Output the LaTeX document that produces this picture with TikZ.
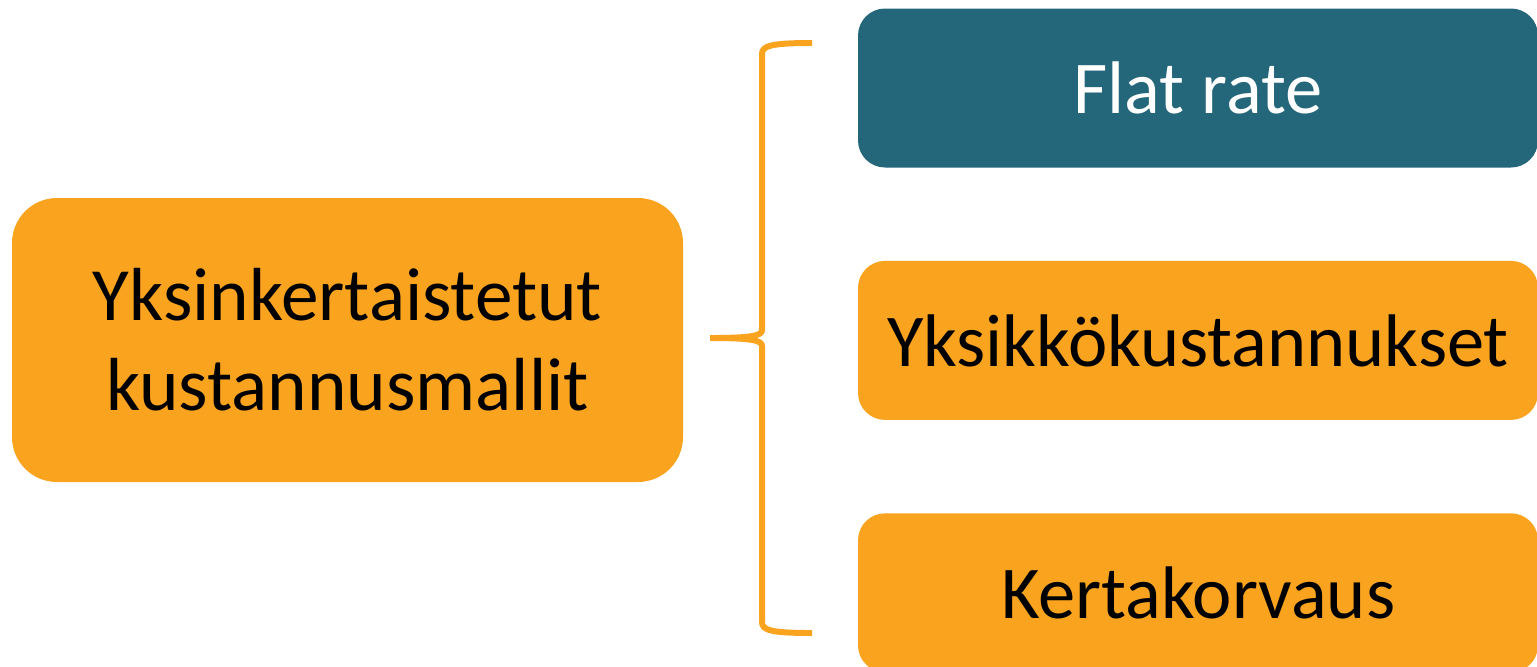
\documentclass[tikz,border=0pt]{standalone}
\usepackage{fontspec}
\setmainfont{Carlito}
\usepackage{xcolor}
\definecolor{modelorange}{HTML}{F9A31F}
\definecolor{modelteal}{HTML}{24667A}
\usetikzlibrary{positioning}

\begin{document}
\begin{tikzpicture}[
  leftbox/.style = {fill = modelorange, rounded corners = 0.45cm, minimum width = 6.71cm, minimum height = 2.84cm, align = center, font = \fontsize{21.4}{25.6}\selectfont},
  typebox/.style = {rounded corners = 0.27cm, minimum width = 6.80cm, minimum height = 1.59cm, font = \fontsize{21.2}{25.6}\selectfont}
]
\useasboundingbox (0,0) rectangle (15.37,6.66);

\node[leftbox] (simple) at (3.475,3.26) {Yksinkertaistetut\\kustannusmallit};

\node[typebox, fill = modelteal, text = white] (flat) at (11.98,5.78) {\raisebox{-1pt}{Flat rate}};
\node[typebox, fill = modelorange, below = 0.92cm of flat] (unit) {\raisebox{-1pt}{Yksikkökustannukset}};
\node[typebox, fill = modelorange, below = 0.92cm of unit] (lump) {\raisebox{-1pt}{Kertakorvaus}};

\draw[modelorange, line width = 1.7pt]
  (8.12,6.23) .. controls (7.70,6.23) and (7.62,6.20) .. (7.62,6.12)
  -- (7.62,3.36) .. controls (7.62,3.30) and (7.50,3.28) .. (7.10,3.28)
  .. controls (7.50,3.28) and (7.62,3.26) .. (7.62,3.20)
  -- (7.62,0.44) .. controls (7.62,0.36) and (7.70,0.33) .. (8.12,0.33);
\end{tikzpicture}
\end{document}
